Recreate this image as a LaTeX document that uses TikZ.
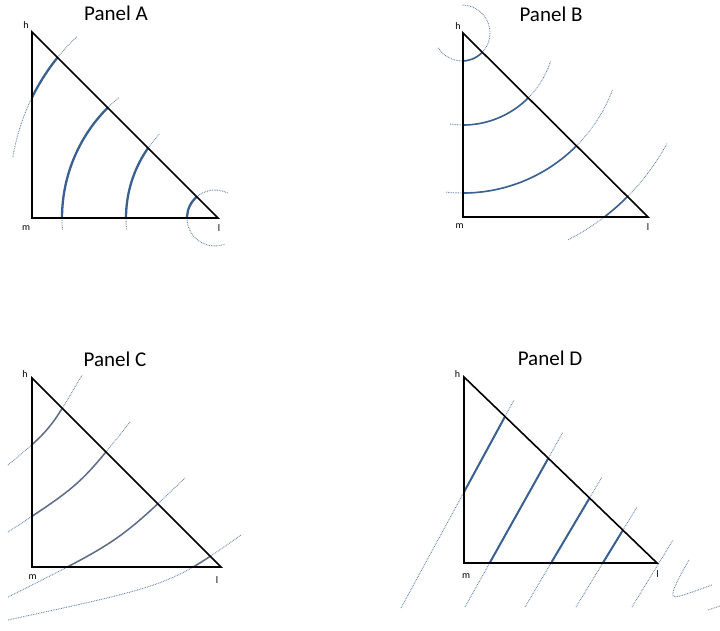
\documentclass[tikz,border=0pt]{standalone}
\usepackage{fontspec}
\setmainfont{Carlito}
\definecolor{solc}{RGB}{58,96,145}
\definecolor{solg}{RGB}{95,110,135}
\definecolor{dotc}{RGB}{105,132,172}
\begin{document}
\begin{tikzpicture}[x=1pt,y=-1pt,
  tri/.style={draw=black, line width=1.6pt, line join=miter},
  dotarc/.style={draw=dotc, line width=0.9pt, dash pattern=on 0.8pt off 0.9pt},
  solA/.style={draw=solc, line width=2.3pt},
  solB/.style={draw=solc, line width=1.6pt},
  solC/.style={draw=solg, line width=1.5pt},
  solD/.style={draw=solc, line width=2pt},
  lab/.style={font=\fontsize{10}{11}\selectfont, inner sep=0pt, anchor=base},
  ttl/.style={font=\fontsize{21}{24}\selectfont, inner sep=0pt, anchor=base}]
\useasboundingbox (0,0) rectangle (720,630);
\fill[white] (0,0) rectangle (720,630);

% ---------- Panel A ----------
\coordinate (hA) at (32,32); \coordinate (mA) at (32,218); \coordinate (lA) at (218,218);
\node[ttl] (tA) at (116,20) {Panel A};
\foreach \cx/\cy/\r/\a/\b in {224/192/214/133.5/170.6, 218/218/156/129.6/184.4, 248/218/122/136.7/185.6, 215/218/28/63/290}
  {\draw[dotarc] (\cx,\cy) ++(\a:\r pt) arc[start angle=\a,end angle=\b,radius=\r pt];}
\begin{scope}
  \clip (hA) -- (mA) -- (lA) -- cycle;
  \foreach \cx/\cy/\r/\a/\b in {224/192/214/133.5/170.6, 218/218/156/129.6/184.4, 248/218/122/136.7/185.6, 215/218/28/63/290}
    {\draw[solA] (\cx,\cy) ++(\a:\r pt) arc[start angle=\a,end angle=\b,radius=\r pt];}
\end{scope}
\draw[tri] (hA) -- (mA) -- (lA) -- cycle;
\node[lab] (nhA) at (26,28) {h};
\node[lab] (nmA) at (26,230) {m};
\node[lab] (nlA) at (219,231) {l};

% ---------- Panel B ----------
\coordinate (hB) at (463,33); \coordinate (mB) at (463,217); \coordinate (lB) at (648,217);
\node[ttl] (tB) at (551,21) {Panel B};
\foreach \cx/\cy/\r/\a/\b in {462/33/28/212/450, 463/33/92/262/342, 463/33/160/264/339, 463/33/232/297/331.5}
  {\draw[dotarc] (\cx,\cy) ++(\a:\r pt) arc[start angle=\a,end angle=\b,radius=\r pt];}
\begin{scope}
  \clip (hB) -- (mB) -- (lB) -- cycle;
  \foreach \cx/\cy/\r/\a/\b in {462/33/28/212/450, 463/33/92/262/342, 463/33/160/264/339, 463/33/232/297/331.5}
    {\draw[solB] (\cx,\cy) ++(\a:\r pt) arc[start angle=\a,end angle=\b,radius=\r pt];}
\end{scope}
\draw[tri] (hB) -- (mB) -- (lB) -- cycle;
\node[lab] (nhB) at (458,29) {h};
\node[lab] (nmB) at (459.5,228) {m};
\node[lab] (nlB) at (648,230) {l};

% ---------- Panel C ----------
\coordinate (hC) at (32,378); \coordinate (mC) at (32,567); \coordinate (lC) at (221,567);
\node[ttl] (tC) at (115,366) {Panel C};
\draw[dotarc] (8,465) .. controls (50,430) .. (82,375);
\draw[dotarc] (8,532) .. controls (80,485) .. (130,422);
\draw[dotarc] (8,597) .. controls (118,542) .. (185,478);
\draw[dotarc] (8,620) .. controls (170,585) .. (241,535);
\begin{scope}
  \clip (hC) -- (mC) -- (lC) -- cycle;
  \draw[solC] (8,465) .. controls (50,430) .. (82,375);
  \draw[solC] (8,532) .. controls (80,485) .. (130,422);
  \draw[solC] (8,597) .. controls (118,542) .. (185,478);
  \draw[solC] (8,620) .. controls (170,585) .. (241,535);
\end{scope}
\draw[tri] (hC) -- (mC) -- (lC) -- cycle;
\node[lab] (nhC) at (25,377) {h};
\node[lab] (nmC) at (32.5,579) {m};
\node[lab] (nlC) at (217,583) {l};

% ---------- Panel D ----------
\coordinate (hD) at (464,377); \coordinate (mD) at (464,563); \coordinate (lD) at (657,563);
\node[ttl] (tD) at (550,365) {Panel D};
\foreach \xa/\ya/\xb/\yb in {401/608/514/400, 465/607/563/432, 525/607/602/477, 576/607/637/507, 632/607/673/540}
  {\draw[dotarc] (\xa,\ya) -- (\xb,\yb);}
\begin{scope}
  \clip (hD) -- (mD) -- (lD) -- cycle;
  \foreach \xa/\ya/\xb/\yb in {401/608/514/400, 465/607/563/432, 525/607/602/477, 576/607/637/507}
    {\draw[solD] (\xa,\ya) -- (\xb,\yb);}
\end{scope}
\draw[dotarc] plot[smooth] coordinates {(689,560) (680,576) (674,589) (673,596) (680,596) (695,591) (712,585)};
\draw[dotarc] (708,610) -- (720,606);
\draw[tri] (hD) -- (mD) -- (lD) -- cycle;
\node[lab] (nhD) at (457.5,377) {h};
\node[lab] (nmD) at (466,578) {m};
\node[lab] (nlD) at (657.5,577) {l};
\end{tikzpicture}
\end{document}
